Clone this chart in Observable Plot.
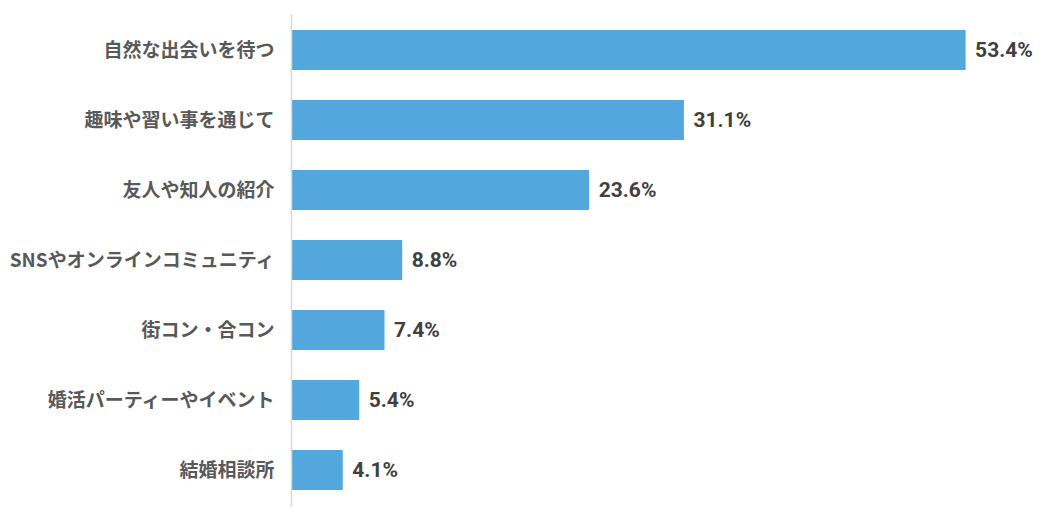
<!DOCTYPE html>
<html>
<head>
<meta charset="utf-8">
<script src="https://cdn.jsdelivr.net/npm/d3@7"></script>
<script src="https://cdn.jsdelivr.net/npm/@observablehq/plot@0.6"></script>
<style>
  html, body { margin: 0; padding: 0; background: #fff; }
  #chart { width: 1064px; height: 522px; }
</style>
</head>
<body>
<div id="chart"></div>
<script>
const categories = [
  "自然な出会いを待つ",
  "趣味や習い事を通じて",
  "友人や知人の紹介",
  "SNSやオンラインコミュニティ",
  "街コン・合コン",
  "婚活パーティーやイベント",
  "結婚相談所"
];
const values = [53.4, 31.1, 23.6, 8.8, 7.4, 5.4, 4.1];

const data = categories.map((c, i) => ({ category: c, value: values[i] }));

const chart = Plot.plot({
  width: 1064,
  height: 522,
  marginLeft: 291,
  marginRight: 15,
  marginTop: 15,
  marginBottom: 17,
  style: { fontFamily: "'Noto Sans CJK JP', sans-serif", background: "#fff" },
  x: { domain: [0, 60], axis: null },
  y: { domain: categories, paddingInner: 0.43, paddingOuter: 0.215, axis: null },
  marks: [
    Plot.barX(data, { y: "category", x: "value", fill: "#52a8dd" }),
    Plot.ruleX([0], { stroke: "#d9d9d9", strokeWidth: 1.5, insetTop: -1, insetBottom: -2 }),
    Plot.text(data, {
      y: "category", x: 0, text: "category", textAnchor: "end", dx: -17,
      fill: "#595959", fontSize: 19, fontWeight: "bold"
    }),
    Plot.text(data, {
      y: "category", x: "value", text: d => d.value.toFixed(1) + "%", textAnchor: "start", dx: 9,
      fill: "#404040", fontSize: 21, fontWeight: "bold", fontFamily: "Roboto, sans-serif"
    })
  ]
});
document.getElementById("chart").appendChild(chart);
</script>
</body>
</html>
